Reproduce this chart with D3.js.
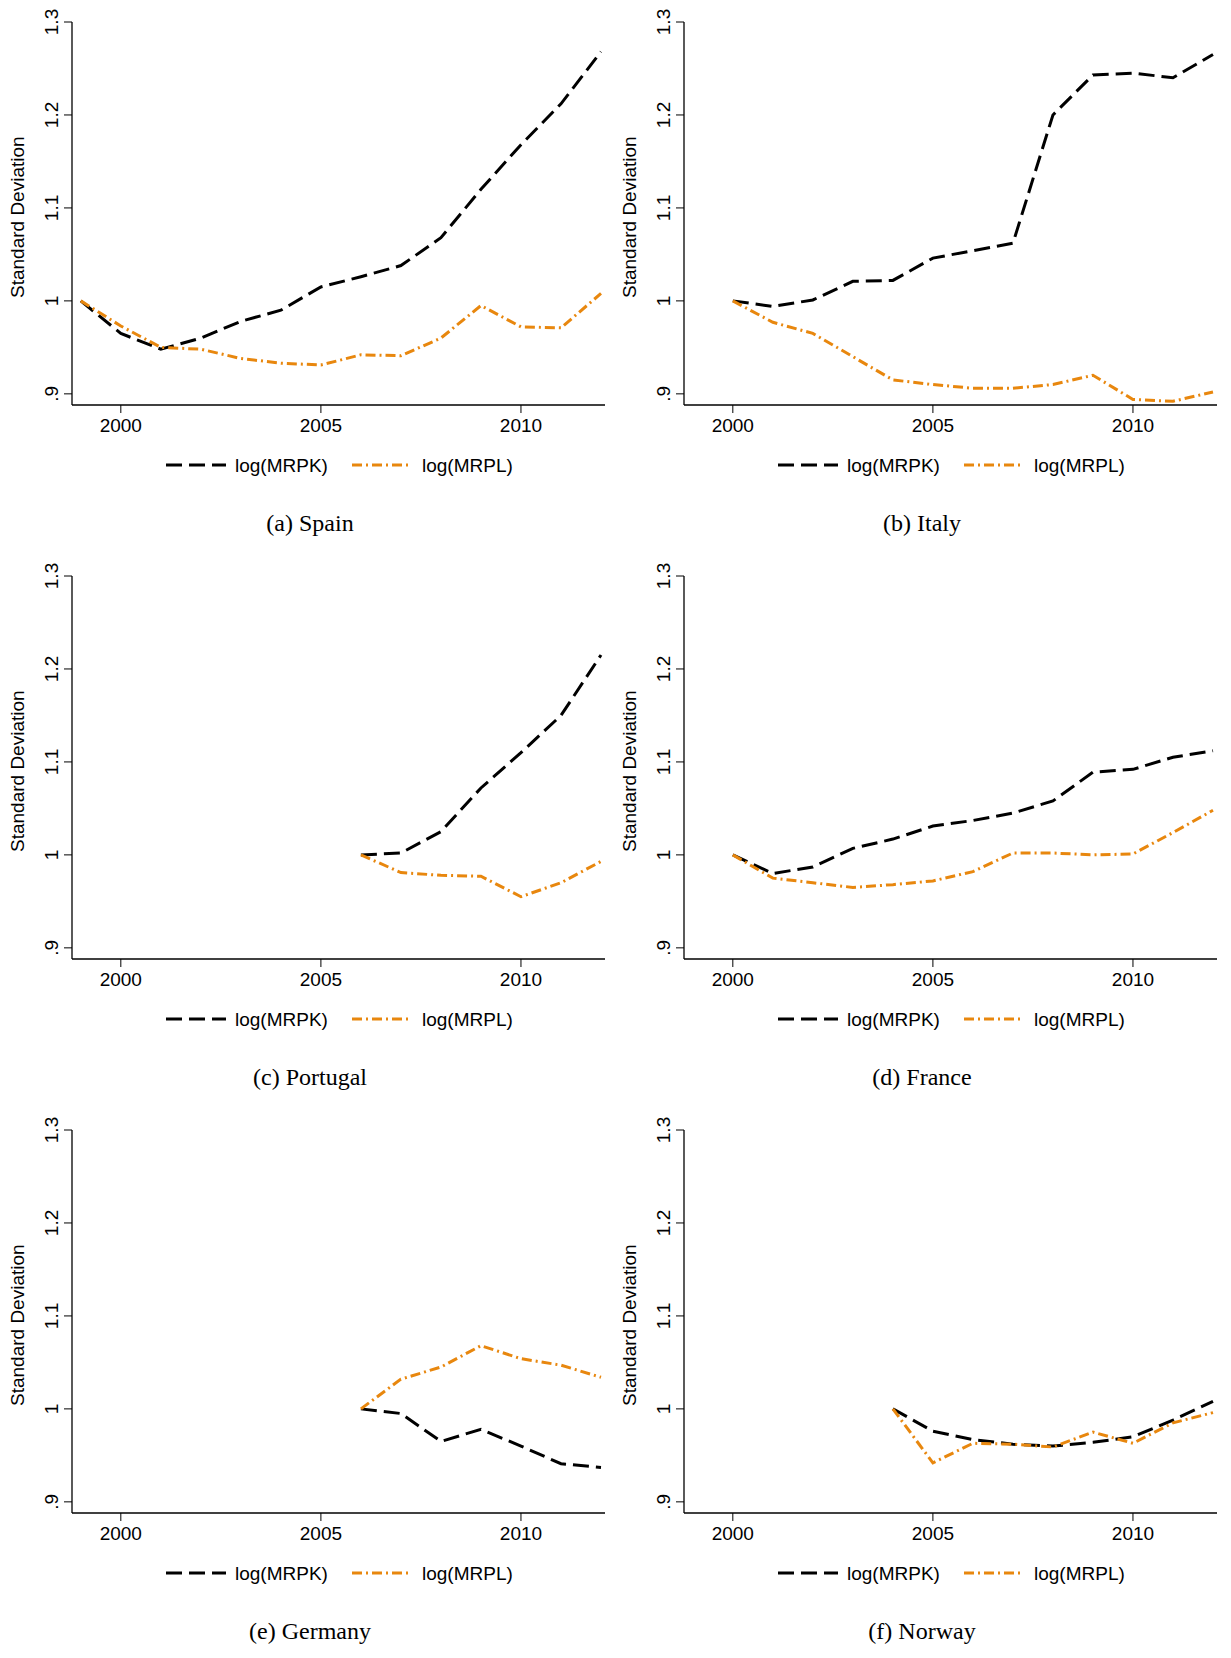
<!DOCTYPE html>
<html><head><meta charset="utf-8">
<script src="https://cdn.jsdelivr.net/npm/d3@7"></script>
<style>body{margin:0;background:#fff}</style>
</head><body>
<svg id="chart" width="1231" height="1658"></svg>
<script>
const countries = ['(a)  Spain', '(b)  Italy', '(c)  Portugal', '(d)  France', '(e)  Germany', '(f)  Norway'];
const startYears = [1999, 2000, 2006, 2000, 2006, 2004];
const mrpk = [
  [1.0, 0.965, 0.948, 0.96, 0.978, 0.99, 1.015, 1.026, 1.038, 1.068, 1.12, 1.168, 1.212, 1.268],
  [1.0, 0.994, 1.001, 1.021, 1.022, 1.046, 1.054, 1.062, 1.2, 1.243, 1.245, 1.24, 1.265],
  [1.0, 1.002, 1.025, 1.072, 1.11, 1.15, 1.215],
  [1.0, 0.98, 0.987, 1.007, 1.017, 1.031, 1.037, 1.045, 1.058, 1.089, 1.092, 1.105, 1.112],
  [1.0, 0.995, 0.965, 0.978, 0.96, 0.941, 0.937],
  [1.0, 0.976, 0.967, 0.962, 0.96, 0.964, 0.97, 0.988, 1.008]
];
const mrpl = [
  [1.0, 0.973, 0.95, 0.948, 0.938, 0.933, 0.931, 0.942, 0.941, 0.96, 0.995, 0.972, 0.971, 1.008],
  [1.0, 0.977, 0.965, 0.94, 0.915, 0.91, 0.906, 0.906, 0.91, 0.92, 0.894, 0.892, 0.902],
  [1.0, 0.981, 0.978, 0.977, 0.955, 0.97, 0.993],
  [1.0, 0.975, 0.97, 0.965, 0.968, 0.972, 0.982, 1.002, 1.002, 1.0, 1.001, 1.024, 1.048],
  [1.0, 1.032, 1.045, 1.068, 1.054, 1.047, 1.034],
  [1.0, 0.942, 0.963, 0.962, 0.959, 0.975, 0.963, 0.985, 0.996]
];
const xTicks = [2000, 2005, 2010];
const yTicks = [0.9, 1.0, 1.1, 1.2, 1.3];
const yTickLabels = ['.9', '1', '1.1', '1.2', '1.3'];
const seriesNames = ['log(MRPK)', 'log(MRPL)'];
const colors = ['#000000', '#e8870e'];
const dashes = ['16,7', '10,4,2,4'];

const svg = d3.select('#chart');
const x = d3.scaleLinear().domain([1998.78, 2012.1]).range([0, 533]);
const y = d3.scaleLinear().domain([0.888, 1.3]).range([384, 1]);
const sans = '19px "Liberation Sans", Arial, sans-serif';

countries.forEach((name, i) => {
  const left = i % 2 === 0 ? 72 : 684;
  const top = 21 + Math.floor(i / 2) * 554;
  const g = svg.append('g').attr('transform', `translate(${left},${top})`);

  // axes
  g.append('line').attr('x1', 0).attr('x2', 0).attr('y1', y(1.3)).attr('y2', 384).attr('stroke', '#000').attr('stroke-width', 1.3);
  g.append('line').attr('x1', 0).attr('x2', 533).attr('y1', 384).attr('y2', 384).attr('stroke', '#000').attr('stroke-width', 1.3);

  xTicks.forEach(t => {
    g.append('line').attr('x1', x(t)).attr('x2', x(t)).attr('y1', 384).attr('y2', 392).attr('stroke', '#000');
    g.append('text').attr('x', x(t)).attr('y', 411).attr('text-anchor', 'middle').style('font', sans).text(t);
  });
  yTicks.forEach((t, j) => {
    g.append('line').attr('x1', -8).attr('x2', 0).attr('y1', y(t)).attr('y2', y(t)).attr('stroke', '#000');
    g.append('text').attr('transform', `translate(-14,${y(t)}) rotate(-90)`).attr('text-anchor', 'middle')
      .style('font', sans).text(yTickLabels[j]);
  });
  g.append('text').attr('transform', `translate(-48,${y(1.09)}) rotate(-90)`)
    .attr('text-anchor', 'middle').style('font', sans).text('Standard Deviation');

  const line = d3.line().x(d => x(d[0])).y(d => y(d[1]));
  [mrpk[i], mrpl[i]].forEach((vals, s) => {
    const pts = vals.map((v, k) => [startYears[i] + k, v]);
    g.append('path').datum(pts).attr('d', line).attr('fill', 'none')
      .attr('stroke', colors[s]).attr('stroke-width', 3).attr('stroke-dasharray', dashes[s]);
  });
  // legend
  const ly = 465;
  [[94, 154, 163], [280, 340, 350]].forEach((p, s) => {
    g.append('line').attr('x1', p[0]).attr('x2', p[1]).attr('y1', ly - 21).attr('y2', ly - 21)
      .attr('stroke', colors[s]).attr('stroke-width', 3).attr('stroke-dasharray', dashes[s]);
    g.append('text').attr('x', p[2]).attr('y', ly - 14).style('font', sans).text(seriesNames[s]);
  });
  g.append('text').attr('x', 238).attr('y', 510).attr('text-anchor', 'middle')
    .style('font', '24px "Liberation Serif", "DejaVu Serif", serif').text(name);
});
</script>
</body></html>
